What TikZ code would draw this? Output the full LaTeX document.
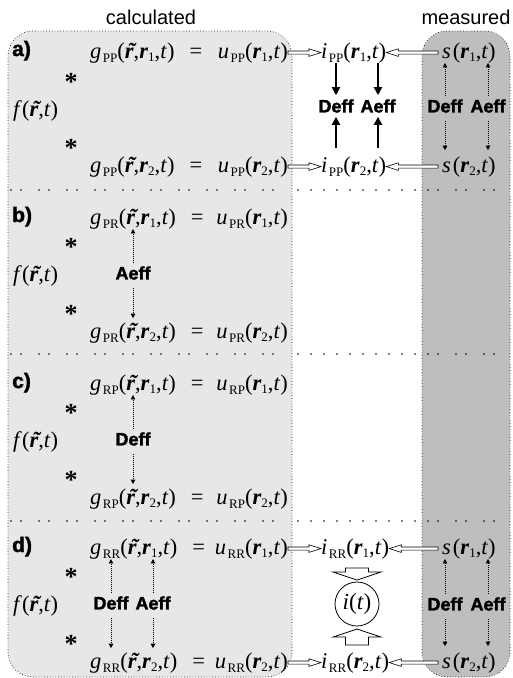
\documentclass[tikz,border=0pt]{standalone}
\usepackage{fontspec}
\setmainfont{Liberation Serif}
\setsansfont{Liberation Sans}
\newfontfamily\blackfont[FakeBold=1.8]{Liberation Sans Bold}
\usetikzlibrary{arrows.meta,calc}
\pgfdeclarelayer{back}
\pgfdeclarelayer{mid}
\pgfsetlayers{back,mid,main}
\definecolor{lightbox}{RGB}{230,231,232}
\definecolor{darkbox}{RGB}{188,190,192}
\newcommand\mysub[1]{\kern1.5pt\raisebox{-0.2em}{\fontsize{13}{13}\selectfont #1}}
\newcommand\rsub[1]{\textbf{\textit{r}}\raisebox{-0.16em}{\fontsize{13}{13}\selectfont #1}}
\newcommand\rtl{\textbf{\textit{r\llap{\char"02DC\kern-1.5pt}}}}
\newcommand\gfn[2]{\textit{g}\mysub{#1}(\rtl,\rsub{#2},\textit{t})}
\newcommand\ufn[2]{\textit{u}\mysub{#1}(\rsub{#2},\textit{t})}
\newcommand\ifn[2]{\textit{i}\mysub{#1}(\rsub{#2},\textit{t})}
\newcommand\sfn[1]{\textit{s}\kern2pt(\rsub{#1},\textit{t})}
\newcommand\ffn{\textit{f}(\rtl,\textit{t})}
% hollow arrow from node anchor #1 to node anchor #2 (horizontal), #3 = +1 right, -1 left
\newcommand\hollowarr[3]{%
  \draw[line width=0.6pt, fill=white, line join=miter]
    let \p1=(#1), \p2=(#2) in
    (\x1, \y1+1.6pt) -- (\x2-#3*12pt, \y1+1.6pt) -- (\x2-#3*12pt, \y1+3.8pt)
    -- (\x2, \y1) -- (\x2-#3*12pt, \y1-3.8pt) -- (\x2-#3*12pt, \y1-1.6pt)
    -- (\x1, \y1-1.6pt) -- cycle;}
\begin{document}
\begin{tikzpicture}[x=1pt,y=-1pt,
  mth/.style={font=\fontsize{22.5}{26}\selectfont, inner sep=0pt, anchor=base west},
  mthe/.style={mth, anchor=base east},
  lbl/.style={font=\fontsize{21}{22}\blackfont, inner sep=0pt, anchor=base west},
  eff/.style={font=\fontsize{18}{20}\blackfont, inner sep=1pt},
  hdr/.style={font=\fontsize{20}{22}\selectfont\sffamily, inner sep=0pt, anchor=base},
  astr/.style={font=\fontsize{26}{28}\bfseries, inner sep=0pt, anchor=base},
  boxline/.style={line width=0.9pt, line cap=round, dash pattern=on 0pt off 2.8pt},
  seppair/.style={line width=1.7pt, line cap=round, dash pattern=on 0pt off 10pt on 0pt off 18pt},
  sepuni/.style={line width=1.7pt, line cap=round, dash pattern=on 0pt off 13pt},
  solidarr/.style={line width=2.6pt, -{Triangle[length=8pt,width=8pt]}},
  dotarr/.style={line width=0.8pt, dash pattern=on 1pt off 1pt, -{Triangle[length=4.5pt,width=4.5pt]}},
  blockarr/.style={line width=0.8pt, fill=white, line join=miter}
]
\useasboundingbox (0,0) rectangle (513,678);
% headers
\node[hdr] (hcalc) at (151,24) {calculated};
\node[hdr] (hmeas) at (466,24) {measured};

% ---------- row a ----------
\node[lbl] (la) at (12,56) {a)};
\node[mth] (ga1) at (90,58) {\gfn{PP}{1}\ \ \,=};
\node[mthe] (ua1) at (288,58) {\ufn{PP}{1}};
\node[mth] (ga2) at (90,172) {\gfn{PP}{2}\ \ \,=};
\node[mthe] (ua2) at (288,172) {\ufn{PP}{2}};
\node[astr] (sa1) at (71,90) {*};
\node[astr] (sa2) at (71,156) {*};
\node[mth] (fa) at (13,116) {\ffn};
\node[mth] (ia1) at (321,58) {\ifn{PP}{1}};
\node[mth] (ia2) at (321,172) {\ifn{PP}{2}};
\node[mth] (ma1) at (442,58) {\sfn{1}};
\node[mth] (ma2) at (442,172) {\sfn{2}};
\node[eff] (mDa) at (336,106) {Deff};
\node[eff] (mAa) at (378,106) {Aeff};
\node[eff] (rDa) at (445,106) {Deff};
\node[eff] (rAa) at (488,106) {Aeff};

% ---------- row b ----------
\node[lbl] (lb) at (12,222) {b)};
\node[mth] (gb1) at (90,224) {\gfn{PR}{1}\ \ \,=};
\node[mthe] (ub1) at (288,224) {\ufn{PR}{1}};
\node[mth] (gb2) at (90,338) {\gfn{PR}{2}\ \ \,=};
\node[mthe] (ub2) at (288,338) {\ufn{PR}{2}};
\node[astr] (sb1) at (71,255) {*};
\node[astr] (sb2) at (71,322) {*};
\node[mth] (fb) at (13,281) {\ffn};
\node[eff] (lAb) at (133,273) {Aeff};

% ---------- row c ----------
\node[lbl] (lc) at (12,388) {c)};
\node[mth] (gc1) at (90,390) {\gfn{RP}{1}\ \ \,=};
\node[mthe] (uc1) at (288,390) {\ufn{RP}{1}};
\node[mth] (gc2) at (90,504) {\gfn{RP}{2}\ \ \,=};
\node[mthe] (uc2) at (288,504) {\ufn{RP}{2}};
\node[astr] (sc1) at (71,421) {*};
\node[astr] (sc2) at (71,488) {*};
\node[mth] (fc) at (13,447) {\ffn};
\node[eff] (lDc) at (133,439) {Deff};

% ---------- row d ----------
\node[lbl] (ld) at (12,552) {d)};
\node[mth] (gd1) at (90,554) {\gfn{RR}{1}\ \ \,=};
\node[mthe] (ud1) at (288,554) {\ufn{RR}{1}};
\node[mth] (gd2) at (90,668) {\gfn{RR}{2}\ \ \,=};
\node[mthe] (ud2) at (288,668) {\ufn{RR}{2}};
\node[astr] (sd1) at (71,585) {*};
\node[astr] (sd2) at (71,652) {*};
\node[mth] (fd) at (13,611) {\ffn};
\node[eff] (lDd) at (111,603) {Deff};
\node[eff] (lAd) at (153,603) {Aeff};
\node[mth] (id1) at (321,554) {\ifn{RR}{1}};
\node[mth] (id2) at (321,668) {\ifn{RR}{2}};
\node[mth] (md1) at (442,554) {\sfn{1}};
\node[mth] (md2) at (442,668) {\sfn{2}};
\node[eff] (rDd) at (445,604) {Deff};
\node[eff] (rAd) at (488,604) {Aeff};
\coordinate (ma1w) at ($(ma1.west)+(-4,0)$);
\coordinate (ma2w) at ($(ma2.west)+(-4,0)$);
\coordinate (md1w) at ($(md1.west)+(-4,0)$);
\coordinate (md2w) at ($(md2.west)+(-4,0)$);

\begin{pgfonlayer}{back}
\draw[boxline, fill=lightbox, rounded corners=25pt] (8,31) rectangle (292,677);
\draw[boxline, fill=darkbox, rounded corners=25pt] (422,31) rectangle (510,677);
\foreach \yy in {190,354,521}{
  \draw[seppair] (11,\yy) -- (290,\yy);
  \draw[sepuni] (298,\yy) -- (418,\yy);
  \draw[seppair] (428,\yy) -- (508,\yy);
}
\end{pgfonlayer}

\begin{pgfonlayer}{mid}
% row a
\hollowarr{ua1.east}{ia1.west}{1}
\hollowarr{ua2.east}{ia2.west}{1}
\hollowarr{ma1w}{ia1.east}{-1}
\hollowarr{ma2w}{ia2.east}{-1}
\draw[solidarr, shorten >=3pt] (mDa |- ia1.south) -- (mDa.north);
\draw[solidarr, shorten >=3pt] (mAa |- ia1.south) -- (mAa.north);
\draw[solidarr, shorten <=8pt, shorten >=3pt] (mDa |- ia2.north) -- (mDa.south);
\draw[solidarr, shorten <=8pt, shorten >=3pt] (mAa |- ia2.north) -- (mAa.south);
\draw[dotarr, shorten <=2pt] (rDa.north) -- (rDa |- ma1.south);
\draw[dotarr, shorten <=2pt] (rAa.north) -- (rAa |- ma1.south);
\draw[dotarr, shorten <=7pt, shorten >=6pt] (rDa.south) -- (rDa |- ma2.north);
\draw[dotarr, shorten <=7pt, shorten >=6pt] (rAa.south) -- (rAa |- ma2.north);
% row b
\draw[dotarr, shorten <=2pt] (lAb.north) -- (lAb |- gb1.south);
\draw[dotarr, shorten <=7pt, shorten >=4pt] (lAb.south) -- (lAb |- gb2.north);
% row c
\draw[dotarr, shorten <=2pt] (lDc.north) -- (lDc |- gc1.south);
\draw[dotarr, shorten <=7pt, shorten >=4pt] (lDc.south) -- (lDc |- gc2.north);
% row d
\draw[dotarr, shorten <=2pt] (lDd.north) -- (lDd |- gd1.south);
\draw[dotarr, shorten <=2pt] (lAd.north) -- (lAd |- gd1.south);
\draw[dotarr, shorten <=7pt, shorten >=4pt] (lDd.south) -- (lDd |- gd2.north);
\draw[dotarr, shorten <=7pt, shorten >=4pt] (lAd.south) -- (lAd |- gd2.north);
\hollowarr{ud1.east}{id1.west}{1}
\hollowarr{ud2.east}{id2.west}{1}
\hollowarr{md1w}{id1.east}{-1}
\hollowarr{md2w}{id2.east}{-1}
\draw[blockarr] (345.5,568) -- (368.5,568) -- (368.5,572) -- (381,572) -- (357,580)
  -- (333,572) -- (345.5,572) -- cycle;
\draw[blockarr] (357,629) -- (381,637) -- (368.5,637) -- (368.5,645) -- (345.5,645)
  -- (345.5,637) -- (333,637) -- cycle;
\draw[dotarr, shorten <=2pt] (rDd.north) -- (rDd |- md1.south);
\draw[dotarr, shorten <=2pt] (rAd.north) -- (rAd |- md1.south);
\draw[dotarr, shorten <=7pt, shorten >=6pt] (rDd.south) -- (rDd |- md2.north);
\draw[dotarr, shorten <=7pt, shorten >=6pt] (rAd.south) -- (rAd |- md2.north);
\end{pgfonlayer}
\node[draw, circle, line width=0.8pt, minimum size=44pt, inner sep=0pt,
      font=\fontsize{23}{24}\selectfont] (it) at (357,604) {\textit{i}(\textit{t})};
\end{tikzpicture}
\end{document}
